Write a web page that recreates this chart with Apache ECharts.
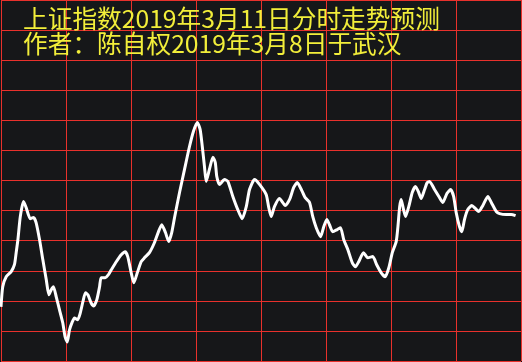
<!DOCTYPE html>
<html><head><meta charset="utf-8">
<script src="https://cdn.jsdelivr.net/npm/echarts@6/dist/echarts.min.js"></script>
<style>html,body{margin:0;padding:0;background:#161719;}#c{width:522px;height:362px;}</style>
</head><body><div id="c"></div>
<script>
var titleLines = ['上证指数2019年3月11日分时走势预测', '作者：陈自权2019年3月8日于武汉'];
var minutes = [0,0.8,2.4,4.7,6.2,7.0,7.8,8.9,10.4,11.6,13.5,15.0,16.2,17.8,19.3,20.9,22.1,23.2,24.2,25.5,27.0,28.5,29.6,30.6,31.6,32.9,33.9,35.4,36.6,37.8,39.0,40.1,41.6,42.8,44.2,45.5,46.2,48.1,49.6,50.9,53.2,55.5,57.3,58.5,60.1,61.3,62.9,64.7,66.2,68.5,70.8,72.7,74.2,75.9,77.4,78.8,80.1,82.4,84.7,87.0,88.8,90.6,91.9,92.9,93.9,94.7,96.2,97.8,98.9,99.6,100.8,103.2,104.7,107.0,109.3,111.3,113.2,114.7,117.0,119.3,122.4,123.5,124.7,126.2,128.5,131.2,133.2,135.1,136.7,138.6,140.4,142.4,143.9,145.5,147.5,149.0,150.4,151.6,153.1,155.2,156.7,158.2,160.1,162.1,163.6,165.1,167.3,169.3,171.6,173.4,175.5,177.3,179.0,180.6,182.4,183.2,184.0,184.7,185.8,186.7,188.2,189.8,191.3,192.8,193.9,195.5,196.7,197.8,200.1,202.4,203.9,205.8,207.5,208.9,210.1,211.6,212.7,213.9,215.4,217.3,218.9,220.5,222.4,224.7,226.3,228.6,230.1,233.2,235.5,237.5];
var values = [2958,2964.7,2968,2969.7,2972,2976,2980.3,2988,2993,2991,2987.3,2987.7,2986,2980.3,2973.7,2967,2962,2963.7,2964.7,2961.3,2957,2952.7,2948,2946.3,2950.3,2953,2954.3,2953.7,2956,2959.7,2962.7,2962,2959.3,2958.3,2960.3,2964.7,2967.7,2967.7,2968.7,2970.3,2973,2975.3,2976.3,2974.7,2969.3,2966,2969.3,2973,2974.3,2976,2979.3,2983,2985.3,2982.7,2979.7,2982.7,2987.7,2996,3003.7,3011.3,3016.3,3019.3,3017,3011.3,3004.7,2999.7,3003.7,3007.7,3006,3001.3,2998.7,3000.3,2999.7,2994.7,2990.3,2987.3,2991.3,2997,3000.3,2998.7,2995.3,2991.3,2988,2991.3,2994,2991.7,2993.7,2997.7,2999.3,2997,2994.3,2992.7,2988,2984.3,2981.3,2984.7,2987,2985.3,2983,2983.7,2984.3,2980.3,2977,2972.7,2971.3,2973,2976,2974.3,2974.7,2972,2969.3,2968,2971,2976,2979.7,2984.7,2991.3,2993.7,2990.3,2988,2991.3,2996,2998,2996,2994,2997,2999.3,2999.7,2997,2994.3,2992.7,2995.7,2997,2994.7,2989.3,2984.7,2983,2987,2990.3,2991.7,2990.7,2989.7,2991.7,2994.7,2992.7,2989.7,2989,2988.7,2988.7,2988.3];
var xMin = 0, xMax = 240, xStep = 30;
var yMin = 2940, yMax = 3060, yStep = 10;

var seriesData = minutes.map(function (t, i) { return [t, values[i]]; });
var chart = echarts.init(document.getElementById('c'));
chart.setOption({
  backgroundColor: '#161719',
  animation: false,
  title: {
    text: titleLines.join('\n'),
    left: 18, top: 1,
    textStyle: { color: '#f2ee3a', fontSize: 24.7, fontWeight: 'normal', lineHeight: 25, fontFamily: 'Noto Sans CJK SC' }
  },
  grid: { left: 1, right: 1, top: 0, bottom: 1 },
  xAxis: {
    type: 'value', min: xMin, max: xMax, interval: xStep,
    axisLine: { show: false }, axisTick: { show: false }, axisLabel: { show: false },
    splitLine: { show: true, lineStyle: { color: '#e8312c', width: 1 } }
  },
  yAxis: {
    type: 'value', min: yMin, max: yMax, interval: yStep,
    axisLine: { show: false }, axisTick: { show: false }, axisLabel: { show: false },
    splitLine: { show: true, lineStyle: { color: '#e8312c', width: 1 } }
  },
  series: [{
    type: 'line', data: seriesData, showSymbol: false, smooth: 0.2,
    lineStyle: { color: '#ffffff', width: 3 }
  }]
});
</script></body></html>
